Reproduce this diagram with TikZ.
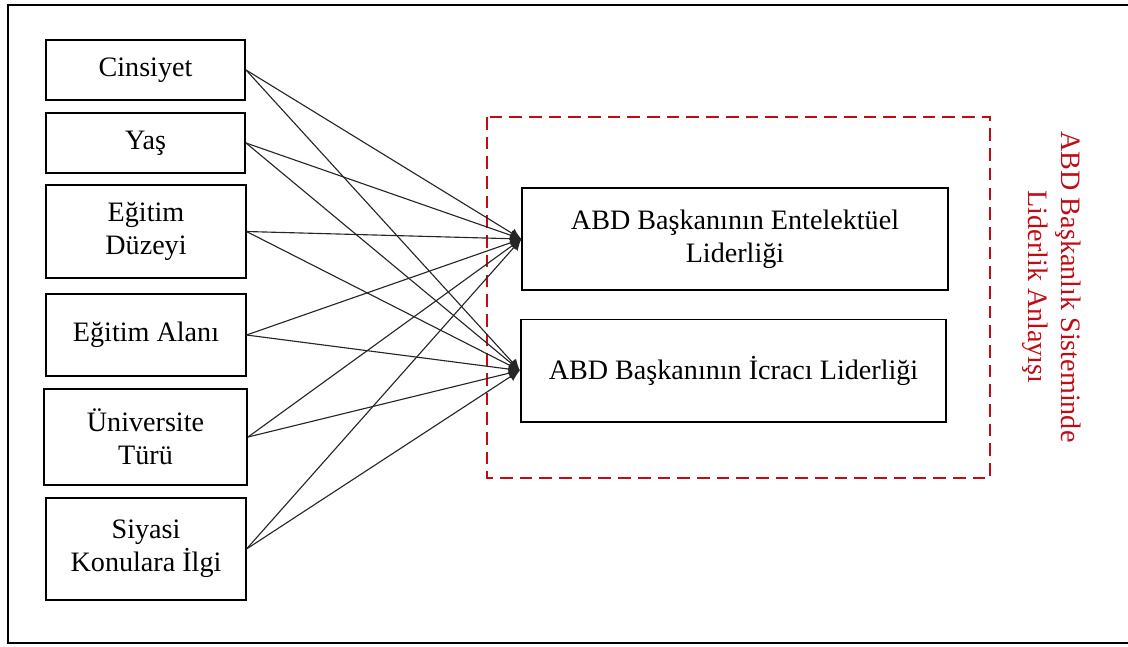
\documentclass[tikz,border=0pt]{standalone}
\usepackage{fontspec}
\setmainfont{Liberation Serif}
\usetikzlibrary{arrows.meta}

\definecolor{framered}{RGB}{192,12,22}

\begin{document}
\begin{tikzpicture}[x=0.025cm,y=-0.025cm,font=\fontsize{20}{23.4}\selectfont,
  varbox/.style={draw,line width=1.4pt,minimum width=4.975cm,align=center,inner sep=0pt},
  viewbox/.style={draw,line width=1.4pt,minimum width=10.63cm,minimum height=2.55cm,align=center,inner sep=0pt},
  link/.style={black!85,line width=0.8pt,-{Latex[length=2.8mm,width=2.6mm]}}]
  \useasboundingbox (0,0) rectangle (1128,646);
  \draw[line width=1.3pt] (8,5) rectangle (1140,643);

  % left side variables
  \node[varbox,minimum height=1.5cm] (cins) at (145.5,70) {Cinsiyet};
  \node[varbox,minimum height=1.5cm] (yas) at (145.5,143) {Yaş};
  \node[varbox,minimum height=2.325cm] (duz) at (146,231.5) {Eğitim\\Düzeyi};
  \node[varbox,minimum height=2.05cm] (alan) at (146,335) {Eğitim Alanı};
  \node[varbox,minimum width=5.075cm,minimum height=2.4cm] (univ) at (145.5,437) {Üniversite\\Türü};
  \node[varbox,minimum height=2.55cm] (ilgi) at (146,549) {Siyasi\\Konulara İlgi};

  % right side
  \draw[framered,line width=2pt,dash pattern=on 9pt off 5pt] (487,117) rectangle (990,478);
  \node[viewbox] (ent) at (735,239) {ABD Başkanının Entelektüel\\Liderliği};
  \node[viewbox] (icr) at (733.5,370.5) {ABD Başkanının İcracı Liderliği};
  \node[framered,rotate=-90,align=center] (baslik) at (1052,287)
    {ABD Başkanlık Sisteminde\\Liderlik Anlayışı};

  \foreach \s in {cins,yas,duz,alan,univ,ilgi}
    \foreach \t in {ent,icr}
      \draw[link] (\s.east) -- (\t.west);
\end{tikzpicture}
\end{document}
